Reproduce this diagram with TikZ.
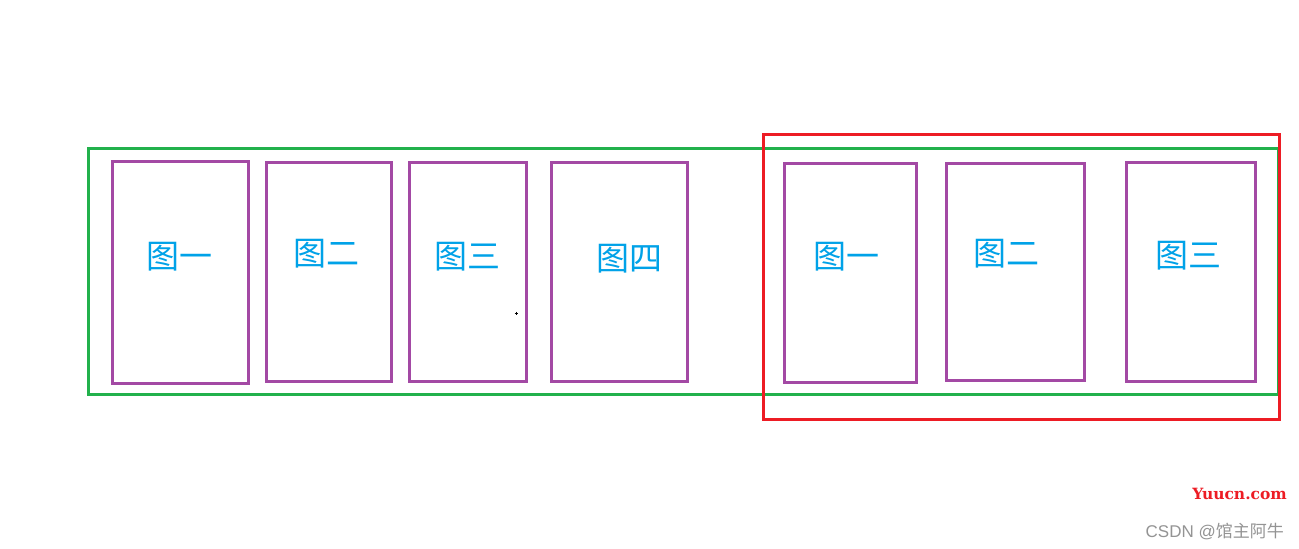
\documentclass[tikz,border=0pt]{standalone}
\usepackage{fontspec}
\newfontfamily\cjk{Noto Sans CJK SC}
\newfontfamily\sansf{Liberation Sans}
\newfontfamily\seriff{DejaVu Serif}
\definecolor{pgreen}{HTML}{22B14C}
\definecolor{pred}{HTML}{ED1C24}
\definecolor{ppurple}{HTML}{A349A4}
\definecolor{pblue}{HTML}{00A2E8}
\begin{document}
\begin{tikzpicture}[x=1pt,y=-1pt,
  framebox/.style={draw=ppurple,line width=3pt},
  lbl/.style={text=pblue,font=\cjk\fontsize{33}{36}\selectfont,inner sep=0pt}]
\useasboundingbox (0,0) rectangle (1299,549);
\fill[white] (0,0) rectangle (1299,549);
% outer frames
\draw[pgreen,line width=3pt] (88,148) rectangle (1278,394);
\draw[pred,line width=3pt] (763,134) rectangle (1279,419);
% picture frames
\draw[framebox] (112,161) rectangle (248,383);
\draw[framebox] (266,162) rectangle (391,381);
\draw[framebox] (409,162) rectangle (526,381);
\draw[framebox] (551,162) rectangle (687,381);
\draw[framebox] (784,163) rectangle (916,382);
\draw[framebox] (946,163) rectangle (1084,380);
\draw[framebox] (1126,162) rectangle (1255,381);
% labels
\node[lbl] (l1) at (179,257) {图一};
\node[lbl] (l2) at (326,254) {图二};
\node[lbl] (l3) at (467,257) {图三};
\node[lbl] (l4) at (629,259) {图四};
\node[lbl] (l5) at (846,257) {图一};
\node[lbl] (l6) at (1006,254) {图二};
\node[lbl] (l7) at (1188,256) {图三};
% tiny mark
\draw[black,line width=0.8pt] (514.5,313) -- (517.5,313) (516,311.5) -- (516,314.5);
% watermarks
\node[text=pred,font=\seriff\bfseries\fontsize{15.5}{18}\selectfont,anchor=east,inner sep=0pt] (w1) at (1287,494) {Yuucn.com};
\node[text=black!42,font=\sansf\fontsize{17}{19}\selectfont,anchor=east,inner sep=0pt] (w2) at (1284,531) {CSDN @\cjk 馆主阿牛};
\end{tikzpicture}
\end{document}
